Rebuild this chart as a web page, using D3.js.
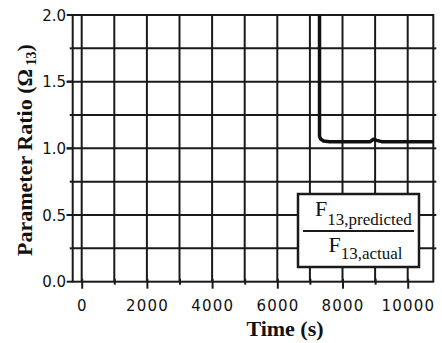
<!DOCTYPE html>
<html>
<head>
<meta charset="utf-8">
<script src="https://cdn.jsdelivr.net/npm/d3@7"></script>
<style>
  body { margin: 0; background: #fff; }
  .tick-label { font-family: "DejaVu Sans", Verdana, sans-serif; font-size: 15px; fill: #111; }
  .axis-title { font-family: "Liberation Serif", "Times New Roman", serif; font-weight: bold; font-size: 22px; fill: #111; }
  .legend-text { font-family: "Liberation Serif", "Times New Roman", serif; fill: #111; }
</style>
</head>
<body>
<svg id="chart" width="442" height="343"></svg>
<script>
// Data
const timeValues = [7295, 7295, 7330, 7420, 7600, 8000, 8500, 8850, 8950, 9050, 9200, 9500, 10000, 10500, 10785];
const ratioValues = [2.4, 1.09, 1.07, 1.055, 1.05, 1.05, 1.05, 1.05, 1.068, 1.06, 1.05, 1.05, 1.05, 1.05, 1.05];

const xTicks = [0, 2000, 4000, 6000, 8000, 10000];
const xGrid = [0, 1000, 2000, 3000, 4000, 5000, 6000, 7000, 8000, 9000, 10000];
const yTicks = [0.0, 0.5, 1.0, 1.5, 2.0];
const yGrid = [0.25, 0.5, 0.75, 1.0, 1.25, 1.5, 1.75];

const svg = d3.select("#chart");

const x = d3.scaleLinear().domain([-276, 10785]).range([72.7, 433.3]);
const y = d3.scaleLinear().domain([0, 2]).range([281.7, 15]);

const ink = "#1a1a1a";

// Grid lines
svg.append("g")
  .selectAll("line")
  .data(xGrid)
  .enter()
  .append("line")
  .attr("x1", d => x(d)).attr("x2", d => x(d))
  .attr("y1", y(2)).attr("y2", y(0))
  .attr("stroke", ink).attr("stroke-width", 2);

svg.append("g")
  .selectAll("line")
  .data(yGrid)
  .enter()
  .append("line")
  .attr("x1", x.range()[0]).attr("x2", x.range()[1])
  .attr("y1", d => y(d)).attr("y2", d => y(d))
  .attr("stroke", ink).attr("stroke-width", 2);

// Frame
svg.append("rect")
  .attr("x", x.range()[0]).attr("y", y(2))
  .attr("width", x.range()[1] - x.range()[0])
  .attr("height", y(0) - y(2))
  .attr("fill", "none")
  .attr("stroke", ink).attr("stroke-width", 2);

// Bottom axis: long ticks on even thousands, short ones on odd
const xAxis = d3.axisBottom(x)
  .tickValues(xGrid)
  .tickSize(0)
  .tickFormat("");
const gx = svg.append("g").attr("transform", `translate(0,${y(0)})`).call(xAxis);
gx.select(".domain").remove();
gx.selectAll(".tick").append("line")
  .attr("y1", -3)
  .attr("y2", d => d % 2000 === 0 ? 7 : 3)
  .attr("stroke", ink).attr("stroke-width", 2);

svg.append("g")
  .selectAll("text")
  .data(xTicks)
  .enter()
  .append("text")
  .attr("class", "tick-label")
  .attr("font-size", 17)
  .attr("letter-spacing", 1.2)
  .attr("x", d => x(d) + 0.6)
  .attr("y", 310.7)
  .attr("text-anchor", "middle")
  .text(d => d);

// Left axis
const gy = svg.append("g").attr("transform", `translate(${x.range()[0]},0)`);
gy.selectAll("line")
  .data(yGrid.concat(yTicks))
  .enter()
  .append("line")
  .attr("x1", d => yTicks.includes(d) ? -6 : -3)
  .attr("x2", 0)
  .attr("y1", d => y(d)).attr("y2", d => y(d))
  .attr("stroke", ink).attr("stroke-width", 2);

svg.append("g")
  .selectAll("text")
  .data(yTicks)
  .enter()
  .append("text")
  .attr("class", "tick-label")
  .attr("x", 66)
  .attr("y", d => y(d) + 5.5)
  .attr("text-anchor", "end")
  .text(d => d.toFixed(1));

// Right side small ticks
svg.append("g")
  .selectAll("line")
  .data(yGrid)
  .enter()
  .append("line")
  .attr("x1", x.range()[1]).attr("x2", x.range()[1] + 3)
  .attr("y1", d => y(d)).attr("y2", d => y(d))
  .attr("stroke", ink).attr("stroke-width", 2);

// Data line
svg.append("clipPath").attr("id", "clip")
  .append("rect")
  .attr("x", x.range()[0]).attr("y", y(2))
  .attr("width", x.range()[1] - x.range()[0])
  .attr("height", y(0) - y(2));

const line = d3.line()
  .x((d, i) => x(timeValues[i]))
  .y(d => y(d));

svg.append("path")
  .datum(ratioValues)
  .attr("clip-path", "url(#clip)")
  .attr("d", line)
  .attr("fill", "none")
  .attr("stroke", "#111")
  .attr("stroke-width", 3.5)
  .attr("stroke-linejoin", "round");

// Legend box
const lg = svg.append("g");
lg.append("rect")
  .attr("x", 298).attr("y", 194)
  .attr("width", 121).attr("height", 73)
  .attr("fill", "#fff")
  .attr("stroke", ink).attr("stroke-width", 2.5);

const numText = lg.append("text").attr("class", "legend-text").attr("x", 315).attr("y", 216);
numText.append("tspan").attr("font-size", 22).text("F");
numText.append("tspan").attr("font-size", 17).attr("dy", 9).text("13,predicted");

lg.append("line")
  .attr("x1", 303).attr("x2", 414)
  .attr("y1", 231).attr("y2", 231)
  .attr("stroke", ink).attr("stroke-width", 2);

const denText = lg.append("text").attr("class", "legend-text").attr("x", 328.5).attr("y", 252);
denText.append("tspan").attr("font-size", 22).text("F");
denText.append("tspan").attr("font-size", 17).attr("dy", 7).text("13,actual");

// Axis titles
svg.append("text")
  .attr("class", "axis-title")
  .attr("x", 285).attr("y", 336)
  .attr("text-anchor", "middle")
  .text("Time (s)");

const yt = svg.append("text")
  .attr("class", "axis-title")
  .attr("transform", "translate(32,150) rotate(-90)")
  .attr("text-anchor", "middle");
yt.append("tspan").text("Parameter Ratio (Ω");
yt.append("tspan").attr("font-size", 14).attr("dy", 4).text(" 13");
yt.append("tspan").attr("dy", -4).text(")");
</script>
</body>
</html>
